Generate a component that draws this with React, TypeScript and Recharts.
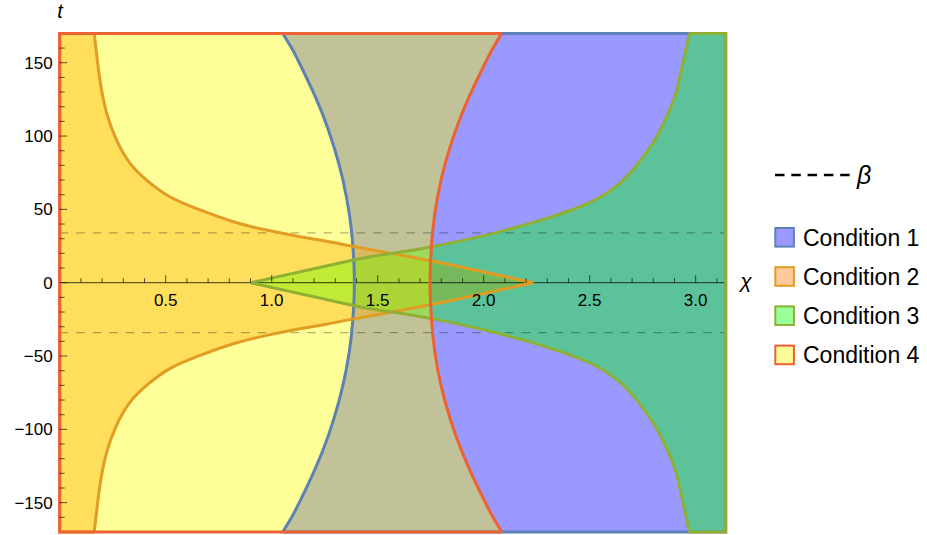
import React from 'react';
import { ComposedChart, Area, Line, Scatter, XAxis, YAxis } from 'recharts';

const PI = Math.PI;
const T_MAX = 170;
const FONT = '"Liberation Sans", Arial, Helvetica, sans-serif';

// Condition 1 boundary (blue), upper half, from the axis up to the top edge
const blueX = [1.390, 1.388, 1.376, 1.352, 1.317, 1.268, 1.205, 1.130, 1.090, 1.052];
const blueT = [0, 13, 36, 59, 81, 104, 127, 150, 161, 170];

// Condition 4 boundary (red), upper half
const redX = [1.747, 1.749, 1.760, 1.783, 1.818, 1.868, 1.932, 2.008, 2.048, 2.085];
const redT = [0, 13, 36, 59, 81, 104, 127, 150, 161, 170];

// Condition 3 boundary (green), upper branch starting at the apex
const greenX = [0.901, 1.385, 1.566, 1.755, 1.98, 2.171, 2.297, 2.454, 2.58, 2.675, 2.753, 2.816, 2.863, 2.902, 2.926, 2.95, 2.97];
const greenT = [0, 15.5, 20.0, 24.5, 31.4, 38.5, 43.9, 51.8, 61.0, 72.3, 85.9, 99.5, 113.2, 126.8, 140.5, 156.4, 170];

// Condition 2 boundary (orange), upper branch from the top edge down to the apex
const orangeX = [0.163, 0.19, 0.222, 0.269, 0.332, 0.41, 0.52, 0.662, 0.819, 0.976, 1.134, 1.259, 1.377, 1.566, 1.731, 1.888, 2.234];
const orangeT = [170, 138, 115.5, 97, 81.4, 70, 58.6, 49.6, 41.6, 35.9, 31.4, 28.3, 25, 20, 15.5, 10.9, 0];

const beta = 34;

const xMajorTicks = [0.5, 1.0, 1.5, 2.0, 2.5, 3.0];
const xMajorLabels = ['0.5', '1.0', '1.5', '2.0', '2.5', '3.0'];
const xMinorTicks = [0.1, 0.2, 0.3, 0.4, 0.6, 0.7, 0.8, 0.9, 1.1, 1.2, 1.3, 1.4, 1.6, 1.7, 1.8, 1.9, 2.1, 2.2, 2.3, 2.4, 2.6, 2.7, 2.8, 2.9, 3.1];
const yMajorTicks = [-150, -100, -50, 0, 50, 100, 150];
const yMinorTicks = [-160, -140, -130, -120, -110, -90, -80, -70, -60, -40, -30, -20, -10, 10, 20, 30, 40, 60, 70, 80, 90, 110, 120, 130, 140, 160];

const conditions = ['Condition 1', 'Condition 2', 'Condition 3', 'Condition 4'];
const fills = ['#0000ff', '#ff7700', '#00ff00', '#ffff00'];
const edges = ['#5e81b5', '#e19c24', '#8fb032', '#eb6235'];
const swatches = ['#9999ff', '#ffc999', '#99ff99', '#ffff99'];

type Pt = { x: number; t: number };
const pts = (xs: number[], ts: number[]): Pt[] => xs.map((x, i) => ({ x, t: ts[i] }));
const flip = (p: Pt[]): Pt[] => p.map((q) => ({ x: q.x, t: -q.t }));

// fills: pieces above and below the axis, the seam sits under the axis line
const c1Upper = [
  ...pts(blueX, blueT).sort((a, b) => a.x - b.x).map((p) => ({ x: p.x, r: [p.t, T_MAX] })),
  { x: PI, r: [0, T_MAX] },
];
const c1Lower = c1Upper.map((d) => ({ x: d.x, r: [-T_MAX, -d.r[0]] }));

const c2 = [
  { x: 0, r: [-T_MAX, T_MAX] },
  ...pts(orangeX, orangeT).map((p) => ({ x: p.x, r: [-p.t, p.t] })),
];

const c3 = [
  ...pts(greenX, greenT).map((p) => ({ x: p.x, r: [-p.t, p.t] })),
  { x: PI, r: [-T_MAX, T_MAX] },
];

const c4Upper = [{ x: 0, r: [0, T_MAX] }, ...pts(redX, redT).map((p) => ({ x: p.x, r: [p.t, T_MAX] }))];
const c4Lower = c4Upper.map((d) => ({ x: d.x, r: [-T_MAX, -d.r[0]] }));

// region edges
const blueUp = pts(blueX, blueT);
const blueCurve = [...flip(blueUp.slice(1)).reverse(), ...blueUp];
const blueFrame = [{ x: 1.052, t: T_MAX }, { x: PI, t: T_MAX }, { x: PI, t: -T_MAX }, { x: 1.052, t: -T_MAX }];

const redUp = pts(redX, redT);
const redCurve = [...flip(redUp.slice(1)).reverse(), ...redUp];
const redFrame = [{ x: 2.085, t: T_MAX }, { x: 0, t: T_MAX }, { x: 0, t: -T_MAX }, { x: 2.085, t: -T_MAX }];

const greenUp = pts(greenX, greenT);
const greenDown = flip(greenUp);
const greenFrame = [{ x: 2.97, t: T_MAX }, { x: PI, t: T_MAX }, { x: PI, t: -T_MAX }, { x: 2.97, t: -T_MAX }];

const orangeUp = pts(orangeX, orangeT);
const orangeDown = flip(orangeUp);
const orangeFrame = [{ x: 0.163, t: T_MAX }, { x: 0, t: T_MAX }, { x: 0, t: -T_MAX }, { x: 0.163, t: -T_MAX }];

const axisLine = [{ x: 0, t: 0 }, { x: PI, t: 0 }];
const betaUp = [{ x: 0, t: beta }, { x: PI, t: beta }];
const betaDown = [{ x: 0, t: -beta }, { x: PI, t: -beta }];

const xMajorData = xMajorTicks.map((x, i) => ({ x, t: 0, label: xMajorLabels[i] }));
const xMinorData = xMinorTicks.map((x) => ({ x, t: 0 }));
const yMajorData = yMajorTicks.map((t) => ({ x: 0, t }));
const yMinorData = yMinorTicks.map((t) => ({ x: 0, t }));

const TICK = '#000';

const XMajorTick = (props: any) => {
  const { cx, cy, payload } = props;
  return (
    <g>
      <line x1={cx} y1={cy} x2={cx} y2={cy - 7.5} stroke={TICK} strokeOpacity={0.65} strokeWidth={1} />
      <text x={cx} y={cy + 23} textAnchor="middle" fontSize={17} fontFamily={FONT} fill="#000">
        {payload.label}
      </text>
    </g>
  );
};
const XMinorTick = (props: any) => (
  <line x1={props.cx} y1={props.cy} x2={props.cx} y2={props.cy - 4.5} stroke={TICK} strokeOpacity={0.65} strokeWidth={1} />
);
const YMajorTick = (props: any) => (
  <line x1={props.cx} y1={props.cy} x2={props.cx + 7.5} y2={props.cy} stroke={TICK} strokeOpacity={0.65} strokeWidth={1} />
);
const YMinorTick = (props: any) => (
  <line x1={props.cx} y1={props.cy} x2={props.cx + 5} y2={props.cy} stroke={TICK} strokeOpacity={0.65} strokeWidth={1} />
);

const fmtY = (v: number) => (v < 0 ? `\u2212${-v}` : `${v}`);

const edgeProps = { dataKey: 't', dot: false, activeDot: false, isAnimationActive: false, legendType: 'none' as const };
const EDGE_W = 3;

const App = () => (
  <div style={{ position: 'relative', width: 927, height: 535, overflow: 'hidden', background: '#fff' }}>
    <style>{'body{margin:0}'}</style>
    <ComposedChart width={927} height={535} margin={{ top: 33.4, right: 201.3, bottom: 3, left: 0 }}>
      <XAxis type="number" dataKey="x" domain={[0, PI]} hide />
      <YAxis
        type="number"
        domain={[-T_MAX, T_MAX]}
        ticks={yMajorTicks}
        interval={0}
        width={59.7}
        tickSize={0}
        tickMargin={7}
        axisLine={false}
        tickLine={false}
        tickFormatter={fmtY}
        tick={{ fontSize: 17, fill: '#000', fontFamily: FONT }}
      />

      <Area data={c1Upper} dataKey="r" type="monotone" stroke="none" fill={fills[0]} fillOpacity={0.4} isAnimationActive={false} />
      <Area data={c1Lower} dataKey="r" type="monotone" stroke="none" fill={fills[0]} fillOpacity={0.4} isAnimationActive={false} />
      <Area data={c2} dataKey="r" type="monotone" stroke="none" fill={fills[1]} fillOpacity={0.4} isAnimationActive={false} />
      <Area data={c3} dataKey="r" type="monotone" stroke="none" fill={fills[2]} fillOpacity={0.4} isAnimationActive={false} />
      <Area data={c4Upper} dataKey="r" type="monotone" stroke="none" fill={fills[3]} fillOpacity={0.4} isAnimationActive={false} />
      <Area data={c4Lower} dataKey="r" type="monotone" stroke="none" fill={fills[3]} fillOpacity={0.4} isAnimationActive={false} />

      <Line data={axisLine} {...edgeProps} type="linear" stroke="#000" strokeOpacity={0.6} strokeWidth={1.2} />
      <Line data={betaUp} {...edgeProps} type="linear" stroke="#000" strokeOpacity={0.3} strokeWidth={1.2} strokeDasharray="8.5 8" />
      <Line data={betaDown} {...edgeProps} type="linear" stroke="#000" strokeOpacity={0.3} strokeWidth={1.2} strokeDasharray="8.5 8" />

      <Line data={blueFrame} {...edgeProps} type="linear" stroke={edges[0]} strokeWidth={EDGE_W} />
      <Line data={blueCurve} {...edgeProps} type="natural" stroke={edges[0]} strokeWidth={EDGE_W} />
      <Line data={orangeFrame} {...edgeProps} type="linear" stroke={edges[1]} strokeWidth={EDGE_W} />
      <Line data={orangeUp} {...edgeProps} type="natural" stroke={edges[1]} strokeWidth={EDGE_W} />
      <Line data={orangeDown} {...edgeProps} type="natural" stroke={edges[1]} strokeWidth={EDGE_W} />
      <Line data={greenFrame} {...edgeProps} type="linear" stroke={edges[2]} strokeWidth={EDGE_W} />
      <Line data={greenUp} {...edgeProps} type="natural" stroke={edges[2]} strokeWidth={EDGE_W} />
      <Line data={greenDown} {...edgeProps} type="natural" stroke={edges[2]} strokeWidth={EDGE_W} />
      <Line data={redFrame} {...edgeProps} type="linear" stroke={edges[3]} strokeWidth={EDGE_W} />
      <Line data={redCurve} {...edgeProps} type="natural" stroke={edges[3]} strokeWidth={EDGE_W} />

      <Scatter data={xMajorData} dataKey="t" shape={XMajorTick} isAnimationActive={false} legendType="none" />
      <Scatter data={xMinorData} dataKey="t" shape={XMinorTick} isAnimationActive={false} legendType="none" />
      <Scatter data={yMajorData} dataKey="t" shape={YMajorTick} isAnimationActive={false} legendType="none" />
      <Scatter data={yMinorData} dataKey="t" shape={YMinorTick} isAnimationActive={false} legendType="none" />
    </ComposedChart>

    <svg width={927} height={535} style={{ position: 'absolute', left: 0, top: 0, pointerEvents: 'none' }}>
      <text x={60} y={18} textAnchor="middle" fontSize={20} fontStyle="italic" fontFamily={FONT}>t</text>
      <text x={746} y={288} textAnchor="middle" fontSize={21} fontStyle="italic" fontFamily={FONT}>χ</text>

      <line x1={775} y1={175} x2={850} y2={175} stroke="#000" strokeWidth={2.3} strokeDasharray="9.5 6.8" />
      <text x={857} y={184} fontSize={25} fontStyle="italic" fontFamily={FONT}>β</text>

      {conditions.map((name, i) => {
        const cy = 237.3 + i * 39.2;
        return (
          <g key={name}>
            <rect x={775.3} y={cy - 9.3} width={18.6} height={18.6} fill={swatches[i]} stroke={edges[i]} strokeWidth={2} />
            <text x={803} y={cy + 8.2} fontSize={23} fontFamily={FONT} fill="#000">{name}</text>
          </g>
        );
      })}
    </svg>
  </div>
);

export default App;
